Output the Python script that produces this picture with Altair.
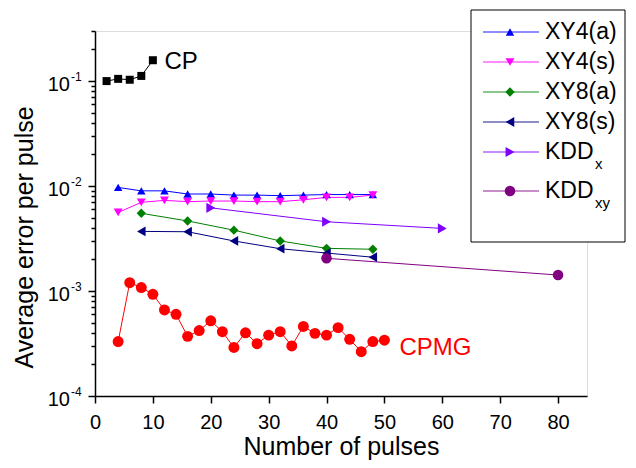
import altair as alt
import pandas as pd

FONT = "Liberation Sans"

# ---------------- data ----------------
series_names = ["CP", "XY4(a)", "XY4(s)", "XY8(a)", "XY8(s)", "KDDx", "KDDxy", "CPMG"]
series_colors = ["#000000", "#0000FF", "#FF00FF", "#008000", "#000080", "#8000FF", "#800080", "#FF0000"]
series_shapes = ["square", "triangle-up", "triangle-down", "diamond", "triangle-left",
                 "triangle-right", "circle", "circle"]
series_sizes = [64, 120, 120, 110, 100, 100, 100, 105]

cp_x = [2, 4, 6, 8, 10]
cp_y = [0.100, 0.105, 0.103, 0.112, 0.158]

xy4a_x = [4, 8, 12, 16, 20, 24, 28, 32, 36, 40, 44, 48]
xy4a_y = [0.0097, 0.0090, 0.0090, 0.0084, 0.0084, 0.0082, 0.0082, 0.0081, 0.0082, 0.0083, 0.0083, 0.0083]

xy4s_x = [4, 8, 12, 16, 20, 24, 28, 32, 36, 40, 44, 48]
xy4s_y = [0.0056, 0.0070, 0.0073, 0.0071, 0.0072, 0.0072, 0.0071, 0.0071, 0.0074, 0.0078, 0.0078, 0.0082]

xy8a_x = [8, 16, 24, 32, 40, 48]
xy8a_y = [0.0055, 0.00465, 0.0038, 0.0030, 0.00255, 0.0025]

xy8s_x = [8, 16, 24, 32, 40, 48]
xy8s_y = [0.0037, 0.00367, 0.0030, 0.00253, 0.0023, 0.0021]

kddx_x = [20, 40, 60]
kddx_y = [0.0062, 0.00457, 0.00395]

kddxy_x = [40, 80]
kddxy_y = [0.00205, 0.00142]

cpmg_x = [4, 6, 8, 10, 12, 14, 16, 18, 20, 22, 24, 26, 28, 30, 32, 34, 36, 38, 40, 42, 44, 46, 48, 50]
cpmg_y = [0.00033, 0.0012, 0.00108, 0.00093, 0.00066, 0.0006, 0.00037, 0.00042, 0.00052, 0.00041,
          0.00029, 0.0004, 0.000315, 0.00038, 0.00041, 0.0003, 0.00046, 0.000395, 0.00038, 0.000448,
          0.000347, 0.000264, 0.00033, 0.00034]

# annotations
note_text = ["CP", "CPMG"]
note_x = [12.0, 52.6]
note_y = [0.152, 0.000286]
note_color = ["#000000", "#FF0000"]

# axis ticks
x_ticks = [0, 5, 10, 15, 20, 25, 30, 35, 40, 45, 50, 55, 60, 65, 70, 75, 80, 85]
y_decades = [0.0001, 0.001, 0.01, 0.1]
y_exponents = ["-4", "-3", "-2", "-1"]
y_ticks = [m * d for d in y_decades for m in range(1, 10) if m * d <= 0.3 + 1e-12]

# legend entries
legend_series = ["XY4(a)", "XY4(s)", "XY8(a)", "XY8(s)", "KDDx", "KDDxy"]
legend_label = ["XY4(a)", "XY4(s)", "XY8(a)", "XY8(s)", "KDD", "KDD"]
legend_sub = ["", "", "", "", "x", "xy"]

# ---------------- tables ----------------
rows = []
for name, xs, ys in [("CP", cp_x, cp_y), ("XY4(a)", xy4a_x, xy4a_y), ("XY4(s)", xy4s_x, xy4s_y),
                     ("XY8(a)", xy8a_x, xy8a_y), ("XY8(s)", xy8s_x, xy8s_y), ("KDDx", kddx_x, kddx_y),
                     ("KDDxy", kddxy_x, kddxy_y), ("CPMG", cpmg_x, cpmg_y)]:
    for xv, yv in zip(xs, ys):
        rows.append({"series": name, "x": xv, "y": yv})
df = pd.DataFrame(rows)

notes = pd.DataFrame({"text": note_text, "x": note_x, "y": note_y, "c": note_color})
dec = pd.DataFrame({"y": y_decades, "e": y_exponents})
leg = pd.DataFrame({"series": legend_series, "label": legend_label, "sub": legend_sub,
                    "i": list(range(len(legend_series)))})

color_scale = alt.Scale(domain=series_names, range=series_colors)
shape_scale = alt.Scale(domain=series_names, range=series_shapes)
size_scale = alt.Scale(domain=series_names, range=series_sizes)

x_enc = alt.X("x:Q", scale=alt.Scale(domain=[0, 85], nice=False, zero=False),
              axis=alt.Axis(values=x_ticks,
                            labelExpr="datum.value % 10 == 0 ? datum.label : ''",
                            tickSize={"condition": {"test": "datum.value % 10 == 0", "value": 7}, "value": 4},
                            labelFlush=False, labelOverlap=False,
                            labelFontSize=20, labelFont=FONT, labelColor="#000000", labelPadding=9,
                            title="Number of pulses", titleFontSize=25, titleFont=FONT,
                            titleFontWeight="normal", titleColor="#000000",
                            titleY=58, titleBaseline="alphabetic",
                            grid=False, domainColor="#000000", tickColor="#000000",
                            domainWidth=1.5, tickWidth=1.5))
y_scale = alt.Scale(type="log", domain=[0.0001, 0.3], nice=False)
y_enc = alt.Y("y:Q", scale=y_scale,
              axis=alt.Axis(values=y_ticks, labels=False,
                            tickSize={"condition": {"test": "abs(log(datum.value)/LN10 - round(log(datum.value)/LN10)) < 0.001",
                                                    "value": 7}, "value": 4},
                            title="Average error per pulse", titleFontSize=25, titleFont=FONT,
                            titleFontWeight="normal", titleColor="#000000",
                            titleX=-71, titleY=206, titleAngle=270, titleBaseline="middle",
                            grid=False, domainColor="#000000", tickColor="#000000",
                            domainWidth=1.5, tickWidth=1.5))

base = alt.Chart(df)
lines = base.mark_line(strokeWidth=1).encode(
    x=x_enc, y=y_enc,
    color=alt.Color("series:N", scale=color_scale, legend=None),
    detail="series:N")
points = base.mark_point(filled=True, opacity=1).encode(
    x="x:Q", y="y:Q",
    color=alt.Color("series:N", scale=color_scale, legend=None),
    shape=alt.Shape("series:N", scale=shape_scale, legend=None),
    size=alt.Size("series:N", scale=size_scale, legend=None))

note_layer = alt.Chart(notes).mark_text(align="left", baseline="middle", fontSize=24, font=FONT).encode(
    x="x:Q", y="y:Q", text="text:N", color=alt.Color("c:N", scale=None))

ytick10 = alt.Chart(dec).mark_text(align="right", baseline="middle", fontSize=20, font=FONT,
                                   color="#000000", dy=4).encode(
    x=alt.value(-25), y="y:Q", text=alt.value("10"))
ytickexp = alt.Chart(dec).mark_text(align="left", baseline="middle", fontSize=12, font=FONT,
                                    color="#000000", dy=-4).encode(
    x=alt.value(-24), y="y:Q", text="e:N")

# legend
box = alt.Chart(pd.DataFrame({"a": [0]})).mark_rect(fill="#FFFFFF", stroke="#000000", strokeWidth=1).encode(
    x=alt.value(376), x2=alt.value(530), y=alt.value(-21), y2=alt.value(211))
legbase = alt.Chart(leg).transform_calculate(ly="1 + 30*datum.i + (datum.i == 5 ? 9 : 0)")
leg_rule = legbase.mark_rule(strokeWidth=1.5, opacity=0.6).encode(
    x=alt.value(388), x2=alt.value(444), y=alt.Y("ly:Q", scale=None, axis=None),
    color=alt.Color("series:N", scale=color_scale, legend=None))
leg_pt = legbase.mark_point(filled=True, opacity=1).encode(
    x=alt.value(415), y=alt.Y("ly:Q", scale=None, axis=None),
    color=alt.Color("series:N", scale=color_scale, legend=None),
    shape=alt.Shape("series:N", scale=shape_scale, legend=None),
    size=alt.Size("series:N", scale=size_scale, legend=None))
leg_txt = legbase.mark_text(align="left", baseline="middle", fontSize=23, font=FONT, color="#000000").encode(
    x=alt.value(450), y=alt.Y("ly:Q", scale=None, axis=None), text="label:N")
leg_sub = legbase.transform_filter("datum.sub != ''").mark_text(
    align="left", baseline="middle", fontSize=15, font=FONT, color="#000000", dy=12).encode(
    x=alt.value(500), y=alt.Y("ly:Q", scale=None, axis=None), text="sub:N")

chart = alt.layer(lines, points, note_layer, ytick10, ytickexp, box, leg_rule, leg_pt, leg_txt, leg_sub).properties(
    width=492, height=365,
    autosize=alt.AutoSizeParams(type="none"),
    padding={"left": 87, "top": 23, "right": 41, "bottom": 64},
).configure_view(strokeWidth=0).configure(background="#FFFFFF")

chart.save("out.html", embed_options={"renderer": "svg", "actions": False})
